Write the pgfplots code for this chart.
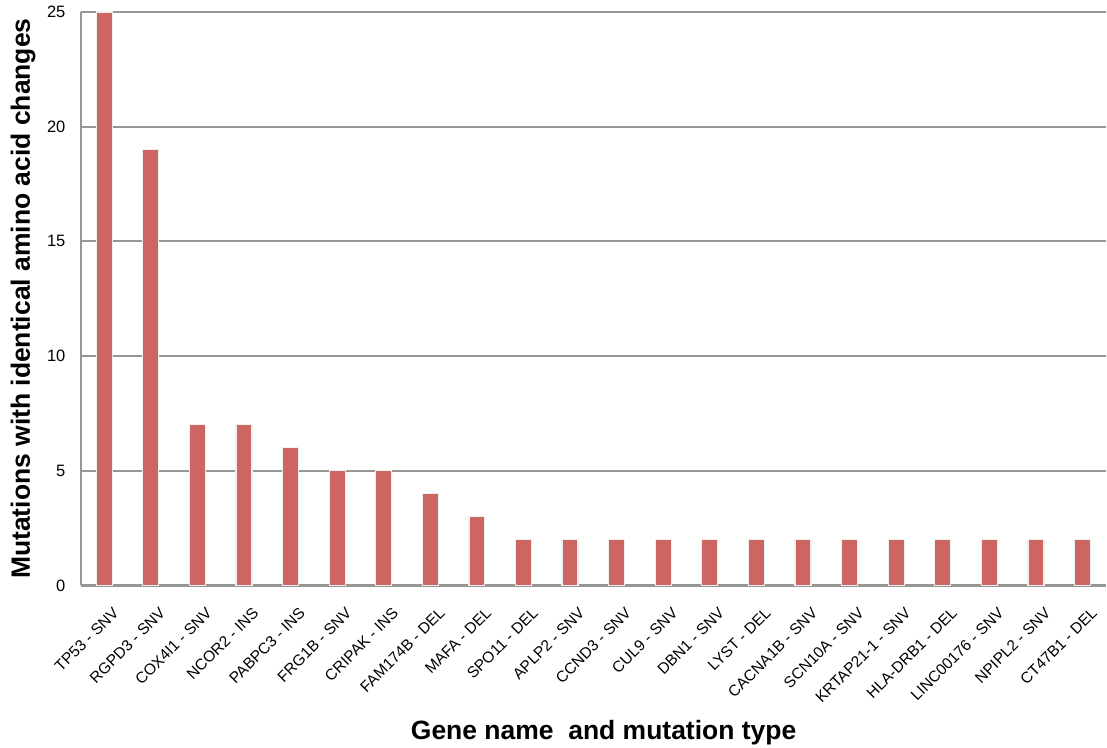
\documentclass[border=0pt]{standalone}
\usepackage{pgfplots}
\pgfplotsset{compat=1.18}
\usepackage{pgfplotstable}
\usepackage{fontspec}
\setmainfont{Liberation Sans}
\definecolor{barred}{RGB}{205,102,96}
\definecolor{gridgray}{RGB}{150,150,150}

% index, count of mutations with identical amino acid changes
\pgfplotstableread{
idx value
0 25
1 19
2 7
3 7
4 6
5 5
6 5
7 4
8 3
9 2
10 2
11 2
12 2
13 2
14 2
15 2
16 2
17 2
18 2
19 2
20 2
21 2
}\mutations

\begin{document}
\begin{tikzpicture}
\path (-81pt,-159pt) rectangle (1026pt,586pt);
\begin{axis}[
    scale only axis,
    width=1026pt, height=574pt,
    xmin=-0.5, xmax=21.5,
    ymin=0, ymax=25,
    ytick={0,5,10,15,20,25},
    xtick={0,...,21},
    xticklabels={TP53 - SNV, RGPD3 - SNV, COX4I1 - SNV, NCOR2 - INS, PABPC3 - INS,
        FRG1B - SNV, CRIPAK - INS, FAM174B - DEL, MAFA - DEL, SPO11 - DEL,
        APLP2 - SNV, CCND3 - SNV, CUL9 - SNV, DBN1 - SNV, LYST - DEL,
        CACNA1B - SNV, SCN10A - SNV, KRTAP21-1 - SNV, HLA-DRB1 - DEL,
        LINC00176 - SNV, NPIPL2 - SNV, CT47B1 - DEL},
    axis x line*=bottom, axis y line*=left,
    axis line style={gridgray, line width=2.4pt},
    ymajorgrids,
    grid style={gridgray, line width=1.9pt},
    major tick length=0pt,
    /pgf/number format/assume math mode=true,
    yticklabel style={font=\fontsize{16.5}{16.5}\selectfont, xshift=-12pt},
    xticklabel style={rotate=45, anchor=north east, font=\fontsize{15.5}{15.5}\selectfont, yshift=-17pt, xshift=-6pt},
    ylabel={\bfseries Mutations with identical amino acid changes},
    ylabel style={font=\fontsize{26.5}{26.5}\selectfont, at={(rel axis cs:0,0.5)}, anchor=center, yshift=58pt},
    xlabel={\bfseries Gene name\ \ and mutation type},
    xlabel style={font=\fontsize{26.5}{26.5}\selectfont, at={(rel axis cs:0.51,0)}, anchor=center, yshift=-147pt},
    ybar, bar width=16pt,
    clip=false,
]
\addplot[fill=barred, draw=white!88!gray, line width=1.2pt] table[x=idx, y=value] {\mutations};
\end{axis}
\end{tikzpicture}
\end{document}
